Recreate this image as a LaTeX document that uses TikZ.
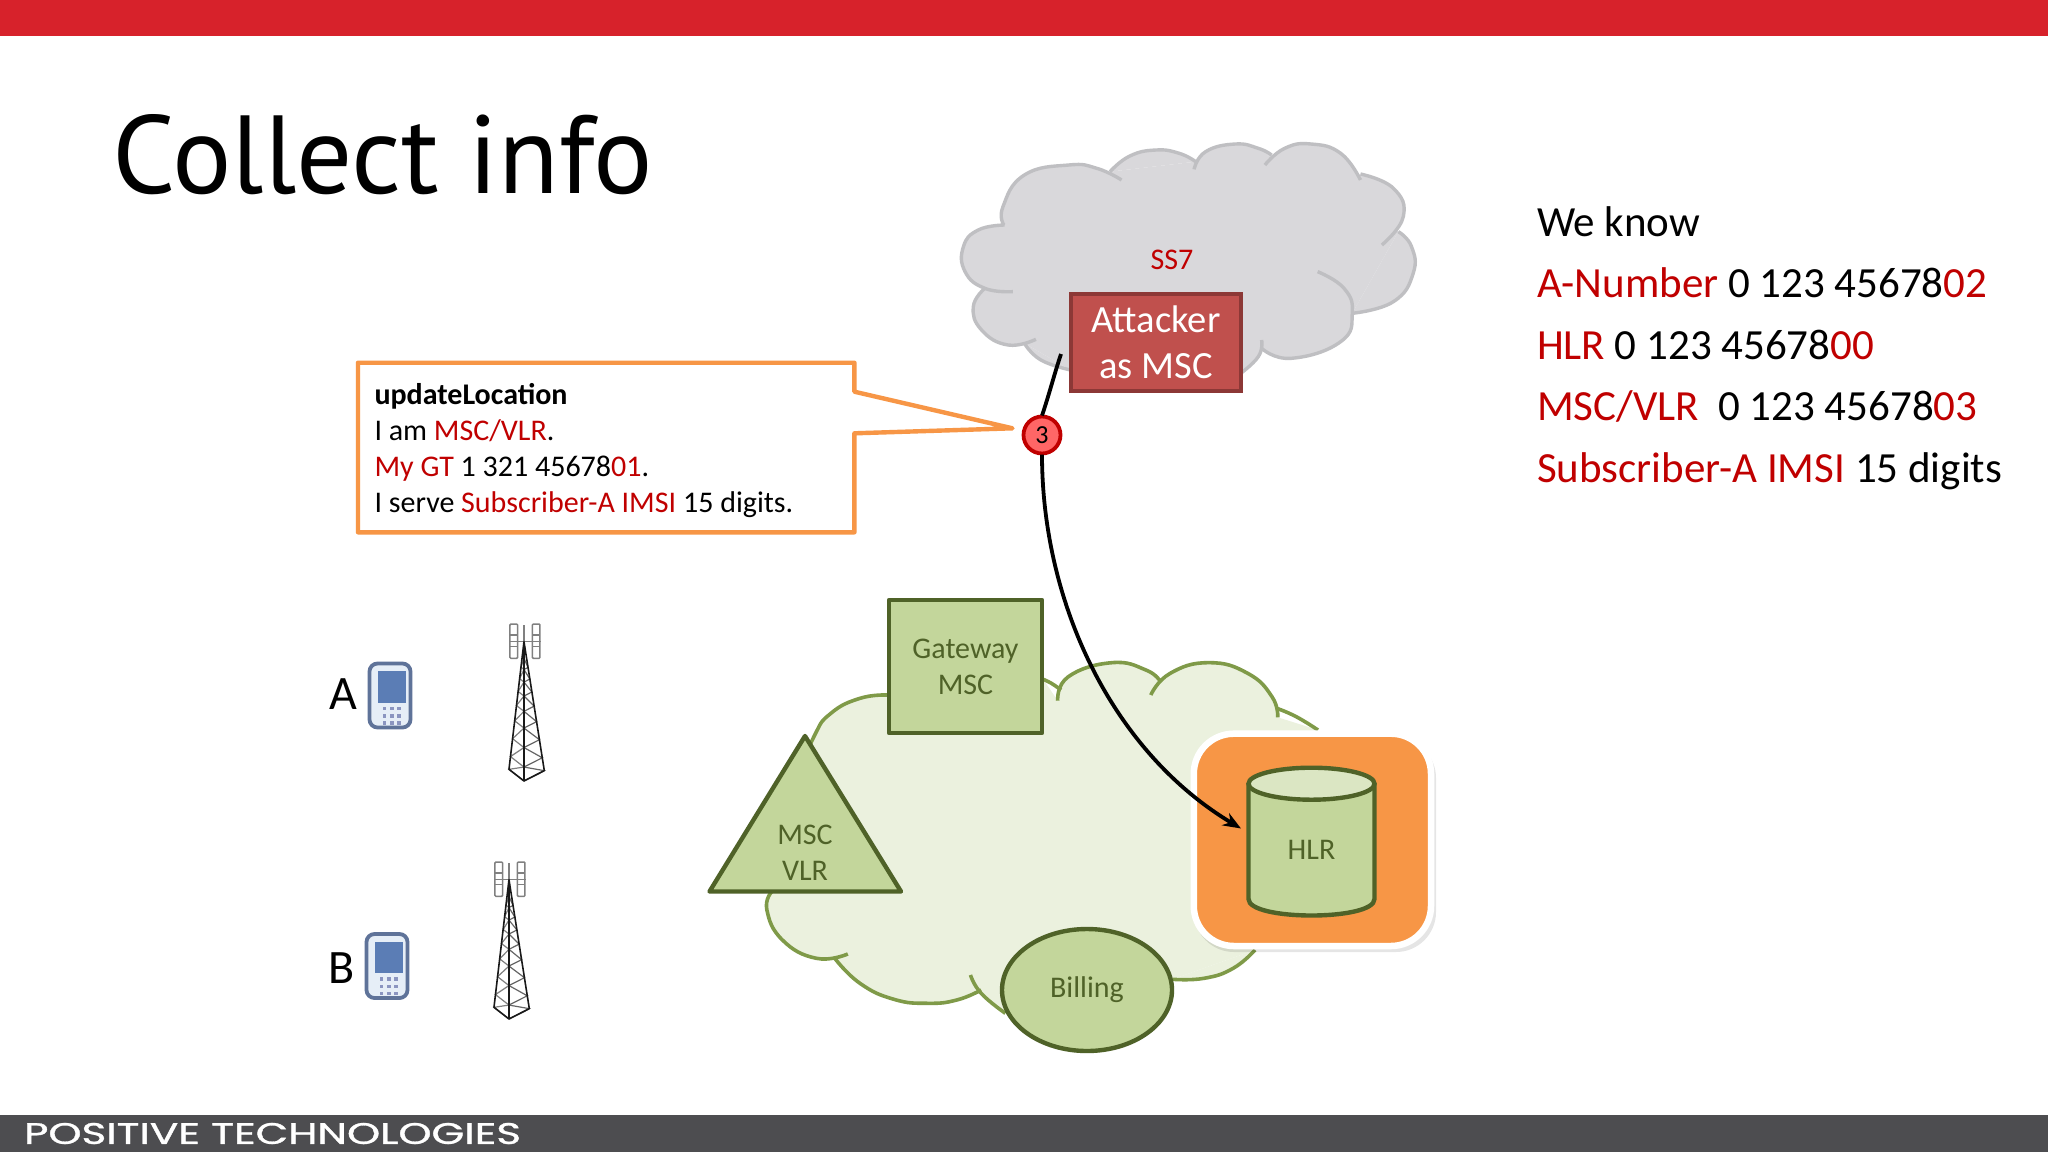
\documentclass[tikz,border=0pt]{standalone}
\usepackage{fontspec}
\usepackage{graphicx}
\setmainfont{Carlito}
\newfontfamily\titlefont{PT Sans}
\newfontfamily\logofont[FakeBold=1]{Poppins}
\usetikzlibrary{arrows.meta,shapes.geometric}
\definecolor{topred}{HTML}{D7222B}
\definecolor{barcol}{HTML}{4D4D50}
\definecolor{hred}{HTML}{C00000}
\definecolor{cgray}{HTML}{D9D8DB}
\definecolor{cgrayl}{HTML}{BFBFC2}
\definecolor{atkfill}{HTML}{C0504D}
\definecolor{atkline}{HTML}{8C3836}
\definecolor{gfill}{HTML}{C3D69B}
\definecolor{gline}{HTML}{4F6228}
\definecolor{cgreen}{HTML}{EBF1DE}
\definecolor{cgreenl}{HTML}{7F9A48}
\definecolor{orangeb}{HTML}{F79646}
\definecolor{phline}{HTML}{5F7399}
\definecolor{phfill}{HTML}{E6EEF7}
\definecolor{phscr}{HTML}{5B7DB5}
\definecolor{phkey}{HTML}{8B95C0}
\definecolor{antgray}{HTML}{808080}
\newcommand{\rtxt}[1]{\textcolor{hred}{#1}}
\newcommand{\fsz}[2]{\fontsize{#1}{#2}\selectfont}
\newcommand{\phone}[2]{%
  \begin{scope}[shift={(#1,#2)}]
    \draw[phline,fill=phfill,line width=3.8,rounded corners=8] (0,0) rectangle (41,64);
    \fill[phscr] (8.6,7.5) rectangle (36,39);
    \foreach \kx in {15,22.3,29.6}
      \foreach \ky in {45,52.3,59.6}
        \fill[phkey] (\kx-1.7,\ky-1.7) rectangle (\kx+1.7,\ky+1.7);
  \end{scope}}
\newcommand{\tower}[2]{%
  \begin{scope}[shift={(#1,#2)},scale=0.3333]
    \draw[antgray,line width=1.5,rounded corners=1] (630,72) rectangle (653,175);
    \draw[antgray,line width=1.5,rounded corners=1] (697,72) rectangle (720,175);
    \draw[antgray,line width=1.5] (630,105)--(653,105) (630,140)--(653,140) (697,105)--(720,105) (697,140)--(720,140)
      (628,125)--(722,125) (672,75)--(672,125);
    \foreach \ta/\tb in {.12/.2,.2/.29,.29/.39,.39/.5,.5/.62,.62/.76,.76/.9,.9/1}{
      \draw[black!60,line width=1.2] (672,125+418*\ta) -- (672+61*\tb,125+387*\tb) -- (672,125+418*\tb);
      \draw[black!50,line width=1.2] (672,125+418*\ta) -- (672-45*\tb,125+383*\tb) -- (672,125+418*\tb);
    }
    \draw[black!90,line width=1.6,line join=round] (627,508) -- (672,125) -- (733,512) -- (672,543) -- cycle (672,125) -- (672,543);
  \end{scope}}
\tikzset{
  x=1pt,y=-1pt,
  lbl/.style={inner sep=0,outer sep=0,align=center},
  gshape/.style={draw=gline,fill=gfill,line width=4.4,line join=round,inner sep=0,outer sep=0},
  gtext/.style={text=gline,font=\fsz{30}{36}},
  wire/.style={black,line width=3.8},
}
\begin{document}
\begin{tikzpicture}
\useasboundingbox (0,0) rectangle (2048,1152);
\fill[white] (0,0) rectangle (2048,1152);
\fill[topred] (0,0) rectangle (2048,36);
\fill[barcol] (0,1115) rectangle (2048,1152);
\node[lbl,anchor=west,text=white] (logo) at (24,1133.5) {\resizebox{497pt}{21pt}{\logofont POSITIVE TECHNOLOGIES}};
\node[lbl,anchor=base west] (title) at (112.5,193.5) {\titlefont\fsz{111}{111}Collect info};

% gray cloud
\begin{scope}[shift={(942,130)},xscale=0.3295,yscale=0.3333]
\def\graylobes{%
 \onelobe{(188,285)(185,230)(250,135)(385,105)(470,115)(545,150)}%
 \onelobe{(510,125)(570,78)(650,60)(720,70)(770,95)}%
 \onelobe{(765,118)(800,65)(890,42)(960,55)(1000,75)}%
 \onelobe{(980,105)(1040,55)(1120,42)(1210,70)(1270,150)}%
 \onelobe{(1270,132)(1370,175)(1400,260)(1335,345)}%
 \onelobe{(1385,305)(1425,350)(1430,430)(1370,515)(1245,550)}%
 \onelobe{(1140,425)(1220,475)(1245,550)(1210,635)(1060,685)(970,655)}%
 \onelobe{(970,630)(960,680)(900,735)}%
 \onelobe{(390,720)(300,690)(250,640)}%
 \onelobe{(285,628)(200,645)(120,600)(95,530)(130,475)}%
 \onelobe{(215,485)(130,475)(70,425)(65,350)(110,300)(190,285)}}
\def\onelobe#1{\fill[cgray] plot[smooth,tension=.8] coordinates {#1} -- cycle;}
\graylobes
\fill[cgray] (188,285)--(510,125)--(770,95)--(1000,75)--(1270,135)--(1385,305)--(1245,550)--(970,650)--(900,735)--(390,720)--(250,640)--(130,475)--cycle;
\def\onelobe#1{\draw[cgrayl,line width=3.4] plot[smooth,tension=.8] coordinates {#1};}
\graylobes
\end{scope}
\node[lbl,text=hred,font=\fsz{30}{30}] (ss7) at (1172,260) {SS7};
\node[draw=atkline,fill=atkfill,line width=4,minimum width=170,minimum height=97,inner sep=0,outer sep=2,text=white,font=\fsz{38.5}{46},align=center] (attacker) at (1156,342) {Attacker\\as MSC};

% green cloud
\begin{scope}[shift={(700,590)},xscale=0.4847,yscale=0.3333]
\def\greenlobes{%
 \onelobe{(388,315)(330,325)(270,370)(235,440)(190,600)}%
 \onelobe{(148,905)(138,960)(170,1050)(240,1105)(305,1092)}%
 \onelobe{(278,1105)(330,1180)(400,1228)(470,1240)(530,1230)(580,1200)}%
 \onelobe{(558,1155)(580,1210)(630,1270)}%
 \onelobe{(975,1168)(1040,1165)(1100,1135)(1145,1080)}%
 \onelobe{(1190,355)(1230,380)(1275,420)}%
 \onelobe{(930,315)(970,250)(1050,218)(1130,250)(1180,320)(1192,382)}%
 \onelobe{(738,332)(760,260)(850,218)(920,240)(950,275)}%
 \onelobe{(708,268)(725,280)(745,300)}}
\def\onelobe#1{\fill[cgreen] plot[smooth,tension=.8] coordinates {#1} -- cycle;}
\greenlobes
\fill[cgreen] (388,315)--(235,440)--(148,905)--(140,960)--(240,1105)--(278,1105)--(470,1240)--(580,1200)--(630,1270)--(975,1168)--(1145,1080)--(1275,420)--(1192,382)--(1130,250)--(948,278)--(850,218)--(738,332)--(708,268)--cycle;
\def\onelobe#1{\draw[cgreenl,line width=3.6] plot[smooth,tension=.8] coordinates {#1};}
\greenlobes
\end{scope}

\node[gshape,rectangle,minimum width=153,minimum height=133,gtext,align=center] (gw) at (965.5,666.5) {Gateway\\MSC};
\draw[gshape] (805,736) -- (709.5,891.5) -- (901,891.5) -- cycle;
\node[lbl,gtext,text=gline] (msc) at (805,853) {MSC\\VLR};
\node[gshape,ellipse,minimum width=170,minimum height=122,gtext] (billing) at (1087,990) {Billing};

% HLR
\fill[black,opacity=.10,rounded corners=40] (1194,738) rectangle (1436,952);
\draw[white,line width=6.5,fill=orangeb,rounded corners=40] (1193.8,733.7) rectangle (1431,946);
\fill[gfill] (1248.5,783.7) -- (1248.5,899) .. controls (1248.5,921) and (1374.5,921) .. (1374.5,899) -- (1374.5,783.7) -- cycle;
\fill[cgreen!60!gfill] (1311.5,783.7) ellipse[x radius=63,y radius=16];
\draw[gline,line width=4.4] (1248.5,783.7) -- (1248.5,899) .. controls (1248.5,921) and (1374.5,921) .. (1374.5,899) -- (1374.5,783.7);
\draw[gline,line width=4.4] (1311.5,783.7) ellipse[x radius=63,y radius=16];
\node[lbl,gtext] (hlr) at (1311.5,850) {HLR};
\coordinate (hlrin) at (1241,828.5);
\coordinate (atkout) at (1061,354);

% connectors and step marker
\node[circle,draw=hred,fill=red!60!white,line width=3.8,minimum size=37,inner sep=0,outer sep=1,font=\fsz{26}{26}] (step3) at (1042,435) {3};
\draw[wire] (atkout) .. controls (1054,375) and (1049,395) .. (step3.north);
\draw[wire,-{Stealth[length=18,width=14]}] (step3.south) .. controls (1042,600) and (1110,750) .. (hlrin);

% callout
\draw[orangeb,fill=white,line width=4.4,line join=round] (358,362.7) -- (854.4,362.7) -- (854.4,391.7) -- (1012.5,428.3) -- (854.4,433.3) -- (854.4,532.3) -- (358,532.3) -- cycle;
\node[lbl,anchor=north west,align=left,font=\fsz{30}{36}] (msg) at (374.5,383) {\textbf{updateLocation}\\I am \rtxt{MSC/VLR}.\\\rtxt{My GT} 1 321 45678\rtxt{01}.\\I serve \rtxt{Subscriber-A IMSI} 15 digits.};

% known list
\node[lbl,anchor=north west,align=left,font=\fsz{43}{61.5}] (know) at (1537,206.5) {We know\\\rtxt{A-Number} 0 123 45678\rtxt{02}\\\rtxt{HLR} 0 123 45678\rtxt{00}\\\rtxt{MSC/VLR}~ 0 123 45678\rtxt{03}\\\rtxt{Subscriber-A IMSI} 15 digits};

% subscribers
\node[lbl,anchor=base,font=\fsz{48}{48}] (labA) at (343,709) {A};
\node[lbl,anchor=base,font=\fsz{48}{48}] (labB) at (342,983) {B};
\phone{369.5}{663.5}
\phone{366.5}{934}
\tower{300}{600}
\tower{285}{838}
\end{tikzpicture}
\end{document}
